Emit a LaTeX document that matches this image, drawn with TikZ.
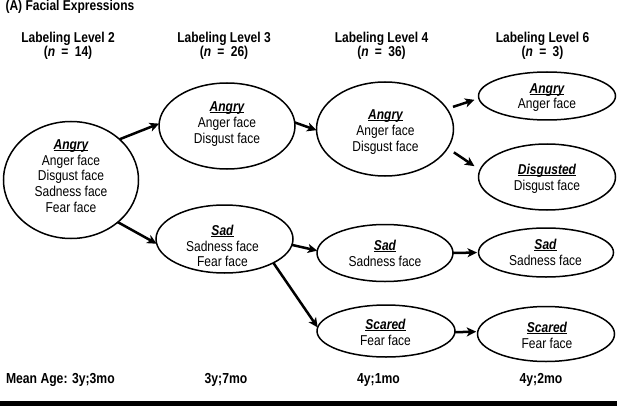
\documentclass[tikz,border=0pt]{standalone}
\usepackage{fontspec}
\setmainfont{Liberation Sans}[FakeStretch=0.84]
\usetikzlibrary{arrows.meta,shapes.geometric}
\newcommand\ulbi[1]{\setbox0\hbox{\bfseries\itshape #1}\rlap{\rule[-1.7pt]{\wd0}{1.2pt}}\box0}
\begin{document}
\begin{tikzpicture}[x=1pt,y=-1pt,
  every node/.style={font=\fontsize{14.3}{15.8}\selectfont, inner sep=0pt, outer sep=0pt},
  oval/.style={draw, ellipse, line width=1.5pt},
  txt/.style={align=center},
  arr/.style={-{Stealth[length=9.5pt,width=9pt,inset=2.5pt]}, line width=2.5pt},
  hdr/.style={font=\fontsize{14.3}{15.8}\selectfont\bfseries, anchor=base},
  age/.style={font=\fontsize{14.5}{15.8}\selectfont\bfseries, anchor=base}]
\useasboundingbox (0,0) rectangle (617,406);

% title and headers
\node[hdr, anchor=base west] (title) at (5.5,10.5) {(A) Facial Expressions};
\node[hdr] (h2) at (68,42.3) {Labeling Level 2};
\node[hdr] (n2) at (68,56.5) {(\textit{n}\hspace{3pt} = \hspace{3pt}14)};
\node[hdr] (h3) at (224,42.3) {Labeling Level 3};
\node[hdr] (n3) at (224,56.5) {(\textit{n}\hspace{3pt} = \hspace{3pt}26)};
\node[hdr] (h4) at (381.5,42.3) {Labeling Level 4};
\node[hdr] (n4) at (381.5,56.5) {(\textit{n}\hspace{3pt} = \hspace{3pt}36)};
\node[hdr] (h6) at (542.5,42.3) {Labeling Level 6};
\node[hdr] (n6) at (542.5,56.5) {(\textit{n}\hspace{3pt} = \hspace{3pt}3)};

% ellipses
\node[oval, minimum width=135pt, minimum height=117pt] (l2a) at (71,180) {};
\node[oval, minimum width=136pt, minimum height=86pt] (l3a) at (227,126) {};
\node[oval, minimum width=137pt, minimum height=68pt] (l3s) at (224.5,239) {};
\node[oval, minimum width=137pt, minimum height=94pt] (l4a) at (385,129) {};
\node[oval, minimum width=136pt, minimum height=57pt] (l4s) at (385,253) {};
\node[oval, minimum width=138pt, minimum height=52pt] (l4c) at (386,331) {};
\node[oval, minimum width=137pt, minimum height=48pt] (l6a) at (547,96) {};
\node[oval, minimum width=137pt, minimum height=66pt] (l6d) at (547,177) {};
\node[oval, minimum width=135pt, minimum height=49pt] (l6s) at (546,252.5) {};
\node[oval, minimum width=137pt, minimum height=55pt] (l6c) at (546,334) {};

% texts
\node[txt] (t2a) at (71,176) {\ulbi{Angry}\\Anger face\\Disgust face\\Sadness face\\Fear face};
\node[txt] (t3a) at (227,124) {\ulbi{Angry}\\Anger face\\Disgust face};
\node[txt] (t3s) at (222.5,246) {\ulbi{Sad}\\Sadness face\\Fear face};
\node[txt] (t4a) at (385.5,132) {\ulbi{Angry}\\Anger face\\Disgust face};
\node[txt] (t4s) at (385,253.5) {\ulbi{Sad}\\Sadness face};
\node[txt] (t4c) at (385.5,332.5) {\ulbi{Scared}\\Fear face};
\node[txt] (t6a) at (547,97.5) {\ulbi{Angry}\\Anger face};
\node[txt] (t6d) at (547,179) {\ulbi{Disgusted}\\Disgust face};
\node[txt] (t6s) at (545.5,252) {\ulbi{Sad}\\Sadness face};
\node[txt] (t6c) at (547,335.5) {\ulbi{Scared}\\Fear face};

% arrows
\draw[arr] (l2a.40) -- (l3a.178);
\draw[arr] (l2a.-42) -- (l3s.184);
\draw[arr] (l3a.3) -- (l4a.181);
\draw[arr, shorten <=6.4pt, shorten >=4.6pt] (l4a.18) -- (l6a.182);
\draw[arr, shorten <=7.6pt, shorten >=6.8pt] (l4a.-17) -- (l6d.174);
\draw[arr] (l3s.-5) -- (l4s.178);
\draw[arr] (l3s.-26) -- (l4c.177);
\draw[arr, shorten >=1.5pt] (l4s.east) -- (l6s.west);
\draw[arr, shorten >=1.5pt] (l4c.-1) -- (l6c.178);

% mean ages
\node[age, anchor=base west] (m2) at (6,383.5) {Mean Age: 3y;3mo};
\node[age] (m3) at (226,383.5) {3y;7mo};
\node[age] (m4) at (378.5,383.5) {4y;1mo};
\node[age] (m6) at (541,383.5) {4y;2mo};

% bottom bar
\fill (0,401) rectangle (617,406);
\end{tikzpicture}
\end{document}
